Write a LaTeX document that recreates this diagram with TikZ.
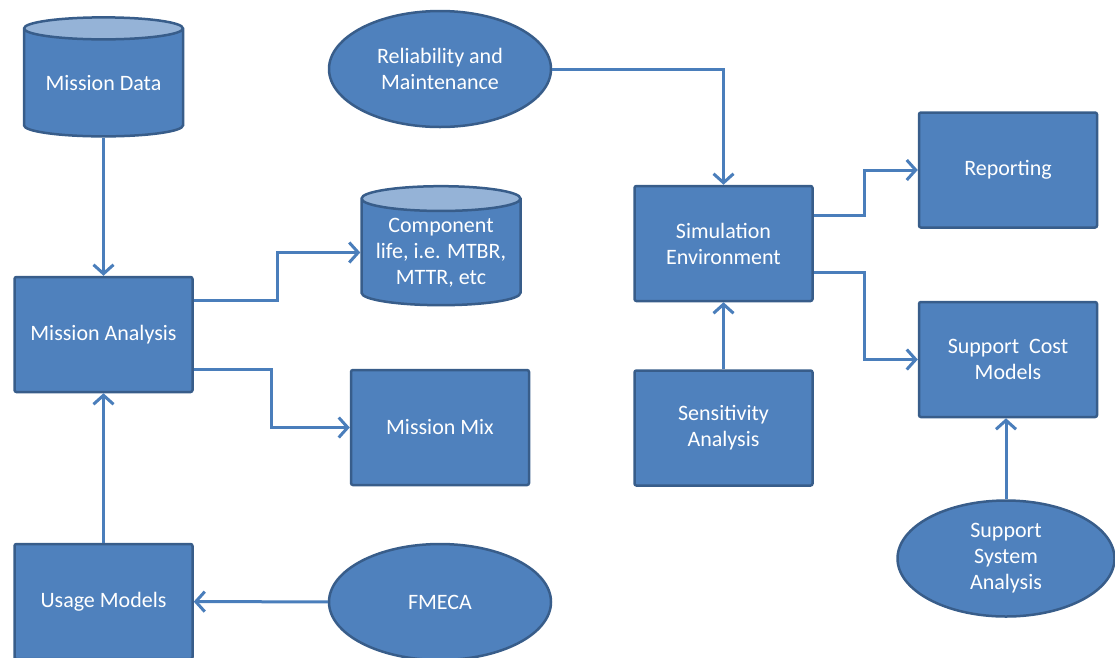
\documentclass[tikz,border=0pt]{standalone}
\usepackage{fontspec}
\setmainfont{Carlito}
\usepackage{tikz}
\usetikzlibrary{shapes.geometric}
\usetikzlibrary{arrows.meta}

\definecolor{boxfill}{HTML}{4F81BD}
\definecolor{boxline}{HTML}{385D8A}
\definecolor{cyltop}{HTML}{95B3D7}
\definecolor{flowline}{HTML}{4A7EBB}

\tikzset{
  block/.style={draw=boxline, fill=boxfill, line width=2.5pt, rounded corners=2pt,
    text=white, align=center, minimum width=178pt, minimum height=115pt},
  oval/.style={ellipse, draw=boxline, fill=boxfill, line width=2.5pt,
    text=white, align=center, minimum width=222pt, minimum height=116pt, inner sep=0pt},
  store/.style={cylinder, shape border rotate=90, aspect=0.19, draw=boxline, line width=2.5pt,
    cylinder uses custom fill, cylinder body fill=boxfill, cylinder end fill=cyltop,
    text=white, align=center, minimum width=159pt, minimum height=119pt, inner sep=0pt},
  flow/.style={draw=flowline, line width=3pt, -{Straight Barb[length=9pt,width=20pt]}}
}

\begin{document}
\begin{tikzpicture}[x=1pt, y=-1pt, font=\fontsize{22}{26}\selectfont]
\path[use as bounding box, clip] (0,0) rectangle (1115,657);

% left column
\node[store, name=data] at (103.5,83) {Mission Data};
\node[block, name=analysis, below of=data, node distance=251.5pt] {Mission Analysis};
\node[block, name=usage, below of=analysis, node distance=267pt] {Usage Models};

% middle column
\node[oval, name=rel] at (440,69) {Reliability and\\Maintenance};
\node[store, name=comp, below of=rel, node distance=183.5pt, xshift=1pt] {Component\\life, i.e. MTBR,\\MTTR, etc};
\node[block, name=mix, below of=comp, node distance=175pt, xshift=-1pt] {Mission Mix};
\node[oval, name=fmeca, below of=rel, node distance=533pt] {FMECA};

% simulation column
\node[block, name=sim] at (723.5,243.5) {Simulation\\Environment};
\node[block, name=sens, below of=sim, node distance=184.5pt] {Sensitivity\\Analysis};

% right column
\node[block, name=rep] at (1008,170) {Reporting};
\node[block, name=cost, below of=rep, node distance=189.5pt] {Support~ Cost\\Models};
\node[oval, name=ssa, below of=cost, node distance=199pt, xshift=-2pt, minimum width=217pt] {Support\\System\\Analysis};

\draw[flow] (data) -- (analysis);
\draw[flow] (usage) -- (analysis);
\draw[flow] (fmeca) -- (usage);
\draw[flow] ([yshift=34pt]analysis.east) -- ++(84pt,0) |- (comp.west);
\draw[flow] ([yshift=-35pt]analysis.east) -- ++(78pt,0) |- (mix.west);
\draw[flow] (rel.east) -| (sim.north);
\draw[flow] (sens) -- (sim);
\draw[flow] ([yshift=28.5pt]sim.east) -- ++(51pt,0) |- (rep.west);
\draw[flow] ([yshift=-28.5pt]sim.east) -- ++(51pt,0) |- (cost.west);
\draw[flow] (ssa.north) -- (ssa.north |- cost.south);

\end{tikzpicture}
\end{document}
